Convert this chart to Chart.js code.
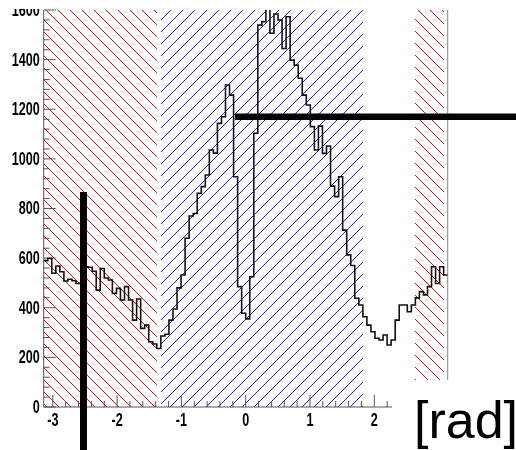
<!DOCTYPE html>
<html>
<head>
<meta charset="utf-8">
<script src="https://cdn.jsdelivr.net/npm/chart.js@4.4.0/dist/chart.umd.min.js"></script>
<style>
  html, body { margin: 0; padding: 0; background: #fff; }
  #wrap { width: 516px; height: 450px; }
</style>
</head>
<body>
<div id="wrap"><canvas id="phiChart" width="516" height="450"></canvas></div>
<script>
// histogram: 100 bins over [-pi, pi]
const xMin = -Math.PI;
const xMax = Math.PI;
const counts = [
  590, 599, 539, 568, 545, 508, 515, 509, 498, 500,
  565, 563, 547, 471, 558, 520, 512, 458, 478, 431,
  485, 431, 350, 435, 317, 330, 263, 254, 236, 286,
  293, 350, 395, 480, 532, 680, 770, 780, 861, 888,
  935, 1036, 1023, 1143, 1170, 1298, 1257, 928, 485, 378,
  355, 525, 1103, 1539, 1553, 1640, 1506, 1584, 1560, 1445,
  1573, 1398, 1378, 1325, 1257, 1217, 1130, 1036, 1132, 1022,
  1052, 890, 848, 928, 713, 613, 570, 438, 411, 364,
  330, 303, 277, 270, 290, 250, 270, 350, 411, 411,
  384, 411, 440, 465, 452, 485, 565, 498, 565, 532
];
const xTicks = [-3, -2, -1, 0, 1, 2];
const yTicks = [0, 200, 400, 600, 800, 1000, 1200, 1400, 1600];
const xMinorStep = 0.2;
const yMinorStep = 40;

// hatched ranges (x from, x to)
const redBands = [[-3.1416, -1.3823], [2.6389, 3.0788]];
const blueBands = [[-1.3195, 1.8221]];

// the two thick cut lines
const cutVertical = [{ x: -2.5226, y: 866 }, { x: -2.5226, y: -200 }];
const cutHorizontal = [{ x: -0.1665, y: 1170 }, { x: 4.6, y: 1170 }];

const binWidth = (xMax - xMin) / counts.length;
const histPoints = counts.map((c, i) => ({ x: xMin + i * binWidth, y: c }));
histPoints.push({ x: xMax, y: counts[counts.length - 1] });

const labelFont = 'bold 18px "Liberation Sans", Arial, sans-serif';

// pixel hatching at 45 degrees, no antialiasing (ROOT style)
function hatch(ctx, area, xs, bands, color, rising, gap) {
  const t = Math.round(area.top), b = Math.round(area.bottom);
  ctx.save();
  ctx.fillStyle = color;
  bands.forEach(([from, to]) => {
    const l = Math.round(xs.getPixelForValue(from));
    const r = Math.round(xs.getPixelForValue(to));
    for (let py = t; py < b; py++) {
      const shift = rising ? -py : py;
      let px = l + (((shift - l) % gap) + gap) % gap;
      for (; px < r; px += gap) ctx.fillRect(px, py, 1, 1);
    }
  });
  ctx.restore();
}

function seg(ctx, x1, y1, x2, y2) {
  ctx.beginPath();
  ctx.moveTo(x1, y1);
  ctx.lineTo(x2, y2);
  ctx.stroke();
}

// narrow bold label, like the ROOT axis font
function narrowText(ctx, text, x, y, align) {
  ctx.save();
  ctx.translate(x, y);
  ctx.scale(0.7, 1);
  ctx.textAlign = align;
  ctx.textBaseline = 'middle';
  ctx.fillText(text, 0, 0);
  ctx.restore();
}

const frameDecor = {
  id: 'frameDecor',
  beforeDatasetsDraw(chart) {
    const { ctx, chartArea: a, scales: { x, y } } = chart;
    hatch(ctx, a, x, redBands, '#ff0000', false, 12);
    hatch(ctx, a, x, blueBands, '#1f1fff', true, 12);

    ctx.save();
    ctx.lineWidth = 1;
    ctx.strokeStyle = '#555';
    seg(ctx, a.left, a.top, a.left, a.bottom);
    seg(ctx, a.left, a.bottom, a.right, a.bottom);
    for (let v = 0; v <= y.max + 0.001; v += yMinorStep) {
      const py = y.getPixelForValue(v);
      const len = Math.round(v) % 200 === 0 ? 12 : 6;
      seg(ctx, a.left, py, a.left + len, py);
    }
    for (let v = -3; v <= xMax; v += xMinorStep) {
      const px = x.getPixelForValue(v);
      const len = Math.abs(v - Math.round(v)) < 0.01 ? 12 : 6;
      seg(ctx, px, a.bottom, px, a.bottom - len);
    }
    ctx.strokeStyle = '#888';
    seg(ctx, a.right, a.top, a.right, a.bottom);
    ctx.restore();
  },
  afterDraw(chart) {
    const { ctx, chartArea: a, scales: { x, y } } = chart;
    ctx.save();
    ctx.fillStyle = '#000';
    ctx.font = labelFont;
    y.ticks.forEach(t => narrowText(ctx, String(t.value), a.left - 4, y.getPixelForValue(t.value) + 1, 'right'));
    x.ticks.forEach(t => narrowText(ctx, String(t.value), x.getPixelForValue(t.value), a.bottom + 14, 'center'));

    ctx.fillStyle = '#fff';
    ctx.fillRect(392, 380, 124, 70);
    ctx.fillRect(0, 0, 516, 9);
    ctx.fillStyle = '#000';
    ctx.font = '52px "Liberation Sans", Arial, sans-serif';
    ctx.textBaseline = 'alphabetic';
    ctx.fillText('[rad]', 414, 438);
    ctx.restore();
  }
};

new Chart(document.getElementById('phiChart'), {
  type: 'line',
  data: {
    datasets: [{
      label: 'phi',
      data: histPoints,
      stepped: 'before',
      borderColor: '#111',
      borderWidth: 1.6,
      pointRadius: 0,
      fill: false
    }, {
      label: 'cutV',
      data: cutVertical,
      borderColor: '#000',
      borderWidth: 7,
      borderCapStyle: 'butt',
      pointRadius: 0,
      clip: false
    }, {
      label: 'cutH',
      data: cutHorizontal,
      borderColor: '#000',
      borderWidth: 6.5,
      borderCapStyle: 'butt',
      pointRadius: 0,
      clip: false
    }]
  },
  options: {
    responsive: false,
    animation: false,
    layout: { padding: { left: 0, top: 10, right: 68.3, bottom: 0 } },
    plugins: {
      legend: { display: false },
      tooltip: { enabled: false }
    },
    scales: {
      x: {
        type: 'linear',
        min: xMin,
        max: xMax,
        afterFit: s => { s.height = 43; },
        afterBuildTicks: s => { s.ticks = xTicks.map(v => ({ value: v })); },
        grid: { display: false, drawTicks: false },
        border: { display: false },
        ticks: { display: false }
      },
      y: {
        type: 'linear',
        min: 0,
        max: 1600,
        afterFit: s => { s.width = 43.7; },
        afterBuildTicks: s => { s.ticks = yTicks.map(v => ({ value: v })); },
        grid: { display: false, drawTicks: false },
        border: { display: false },
        ticks: { display: false }
      }
    }
  },
  plugins: [frameDecor]
});
</script>
</body>
</html>
